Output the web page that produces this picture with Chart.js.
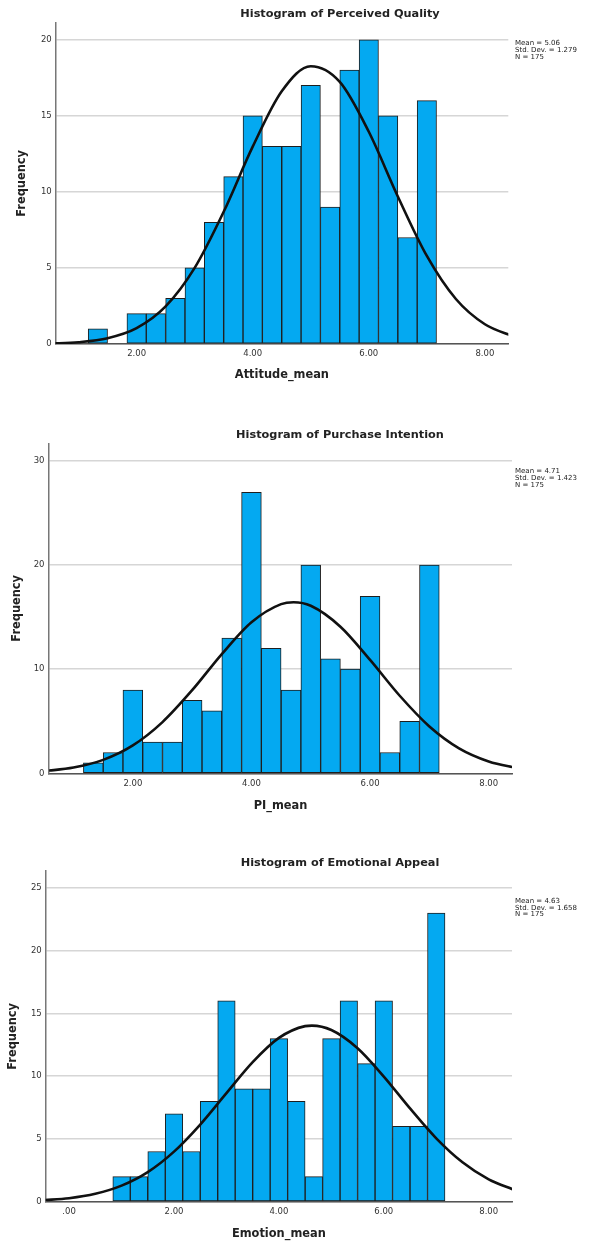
<!DOCTYPE html>
<html>
<head>
<meta charset="utf-8">
<script src="https://cdn.jsdelivr.net/npm/chart.js@4.4.1/dist/chart.umd.min.js"></script>
<style>
  html, body { margin: 0; padding: 0; background: #fff; }
  #page { position: relative; width: 592px; height: 1242px; overflow: hidden; }
  canvas { position: absolute; left: 0; }
</style>
</head>
<body>
<div id="page">
  <canvas id="quality" width="592" height="410" style="top:0px"></canvas>
  <canvas id="intention" width="592" height="425" style="top:410px"></canvas>
  <canvas id="emotion" width="592" height="407" style="top:835px"></canvas>
</div>
<script>
// bin centres (width 1/3) and frequencies
const qualityBins = [1.333, 1.667, 2.000, 2.333, 2.667, 3.000, 3.333, 3.667, 4.000, 4.333, 4.667, 5.000, 5.333, 5.667, 6.000, 6.333, 6.667, 7.000];
const qualityCounts = [1, 0, 2, 2, 3, 5, 8, 11, 15, 13, 13, 17, 9, 18, 20, 15, 7, 16];
const qualityCurveX = [0.5, 1.0, 1.5, 2.0, 2.5, 3.0, 3.5, 4.0, 4.5, 5.0, 5.5, 6.0, 6.5, 7.0, 7.5, 8.0, 8.5];
const qualityCurveY = [0.03, 0.12, 0.38, 1.04, 2.47, 5.00, 8.69, 12.97, 16.61, 18.26, 17.23, 13.95, 9.70, 5.79, 2.96, 1.30, 0.49];
const qualityStats = ['Mean = 5.06', 'Std. Dev. = 1.279', 'N = 175'];

const intentionBins = [1.333, 1.667, 2.000, 2.333, 2.667, 3.000, 3.333, 3.667, 4.000, 4.333, 4.667, 5.000, 5.333, 5.667, 6.000, 6.333, 6.667, 7.000];
const intentionCounts = [1, 2, 8, 3, 3, 7, 6, 13, 27, 12, 8, 20, 11, 10, 17, 2, 5, 20];
const intentionCurveX = [0.5, 1.0, 1.5, 2.0, 2.5, 3.0, 3.5, 4.0, 4.5, 4.71, 5.0, 5.5, 6.0, 6.5, 7.0, 7.5, 8.0, 8.5];
const intentionCurveY = [0.21, 0.55, 1.29, 2.68, 4.92, 7.98, 11.45, 14.51, 16.25, 16.43, 16.09, 14.08, 10.89, 7.45, 4.50, 2.40, 1.14, 0.47];
const intentionStats = ['Mean = 4.71', 'Std. Dev. = 1.423', 'N = 175'];

const emotionBins = [1.000, 1.333, 1.667, 2.000, 2.333, 2.667, 3.000, 3.333, 3.667, 4.000, 4.333, 4.667, 5.000, 5.333, 5.667, 6.000, 6.333, 6.667, 7.000];
const emotionCounts = [2, 2, 4, 7, 4, 8, 16, 9, 9, 13, 8, 2, 13, 16, 11, 16, 6, 6, 23];
const emotionCurveX = [-0.5, 0.0, 0.5, 1.0, 1.5, 2.0, 2.5, 3.0, 3.5, 4.0, 4.5, 4.63, 5.0, 5.5, 6.0, 6.5, 7.0, 7.5, 8.0, 8.5];
const emotionCurveY = [0.12, 0.28, 0.63, 1.28, 2.36, 3.99, 6.15, 8.65, 11.12, 13.05, 13.99, 14.03, 13.68, 12.23, 9.97, 7.43, 5.05, 3.14, 1.78, 0.92];
const emotionStats = ['Mean = 4.63', 'Std. Dev. = 1.658', 'N = 175'];

const xTicksShort = [2, 4, 6, 8];
const xTicksLong = [0, 2, 4, 6, 8];
const qualityYTicks = [0, 5, 10, 15, 20];
const intentionYTicks = [0, 10, 20, 30];
const emotionYTicks = [0, 5, 10, 15, 20, 25];

Chart.defaults.font.family = '"DejaVu Sans", Verdana, sans-serif';

// chart title + stats box, SPSS style
const notesPlugin = {
  id: 'notes',
  afterDraw(chart, args, opts) {
    const ctx = chart.ctx;
    ctx.save();
    ctx.fillStyle = '#222';
    ctx.textBaseline = 'middle';
    ctx.textAlign = 'center';
    ctx.font = 'bold 11.3px "DejaVu Sans"';
    ctx.fillText(opts.title, opts.titleX, opts.titleY);
    ctx.textAlign = 'left';
    ctx.font = '7px "DejaVu Sans"';
    opts.stats.forEach((s, i) => ctx.fillText(s, opts.statsX, opts.statsY + i * 6.8));
    ctx.restore();
  }
};

function histogram(id, h, c) {
  const titleFont = { size: 11.4, weight: 'bold' };
  return new Chart(document.getElementById(id), {
    type: 'bar',
    data: {
      datasets: [
        {
          type: 'line',
          data: c.curveX.map((x, i) => ({ x, y: c.curveY[i] })),
          borderColor: '#111',
          borderWidth: 2.6,
          pointRadius: 0,
          cubicInterpolationMode: 'monotone',
          order: 1
        },
        {
          type: 'bar',
          data: c.bins.map((x, i) => ({ x, y: c.counts[i] })),
          backgroundColor: '#04a9f1',
          borderColor: '#1e1e1e',
          borderWidth: 1,
          borderSkipped: false,
          barPercentage: 1,
          categoryPercentage: 1,
          order: 2
        }
      ]
    },
    options: {
      responsive: false,
      animation: false,
      devicePixelRatio: 1,
      layout: { padding: { top: c.top, right: c.right, left: 0, bottom: 0 } },
      plugins: {
        legend: { display: false },
        tooltip: { enabled: false },
        notes: {
          title: c.title, titleX: 340, titleY: c.titleY,
          stats: c.stats, statsX: 515, statsY: c.statsY
        }
      },
      scales: {
        x: {
          type: 'linear',
          min: c.xMin,
          max: c.xMax,
          offset: false,
          grid: { display: false, drawTicks: false, offset: false },
          border: { color: '#555', width: 1.5 },
          afterBuildTicks: s => { s.ticks = c.xTicks.map(v => ({ value: v })); },
          afterFit: s => { s.height = h - c.bottom; },
          ticks: {
            padding: c.xTickPad,
            color: '#333',
            font: { size: 8.5 },
            callback: v => v.toFixed(2).replace(/^0\./, '.')
          },
          title: {
            display: true, text: c.xTitle, color: '#222', font: titleFont,
            padding: { top: 0, bottom: c.xTitlePad }
          }
        },
        y: {
          min: 0,
          max: c.yMax,
          grid: { color: '#d6d6d6', lineWidth: 1.5, drawTicks: false },
          border: { color: '#777', width: 1.5 },
          afterBuildTicks: s => { s.ticks = c.yTicks.map(v => ({ value: v })); },
          afterFit: s => { s.width = c.left; },
          ticks: { padding: c.yTickPad, color: '#333', font: { size: 8.5 } },
          title: {
            display: true, text: 'Frequency', color: '#222', font: titleFont,
            padding: { top: c.yTitlePad, bottom: 0 }
          }
        }
      }
    },
    plugins: [notesPlugin]
  });
}

histogram('quality', 410, {
  bins: qualityBins, counts: qualityCounts,
  curveX: qualityCurveX, curveY: qualityCurveY,
  stats: qualityStats, title: 'Histogram of Perceived Quality', xTitle: 'Attitude_mean',
  xTicks: xTicksShort, yTicks: qualityYTicks,
  xMin: 0.603, xMax: 8.403, yMax: 21.12,
  top: 22.7, bottom: 344, left: 55.5, right: 83.7,
  titleY: 14.5, statsY: 43.3,
  xTickPad: 4.3, yTickPad: 3.8, xTitlePad: 28.1, yTitlePad: 15.7
});

histogram('intention', 425, {
  bins: intentionBins, counts: intentionCounts,
  curveX: intentionCurveX, curveY: intentionCurveY,
  stats: intentionStats, title: 'Histogram of Purchase Intention', xTitle: 'PI_mean',
  xTicks: xTicksShort, yTicks: intentionYTicks,
  xMin: 0.588, xMax: 8.393, yMax: 31.7,
  top: 33.3, bottom: 363.3, left: 49.1, right: 80,
  titleY: 25, statsY: 61.3,
  xTickPad: 5, yTickPad: 4.6, xTitlePad: 22.1, yTitlePad: 10.1
});

histogram('emotion', 407, {
  bins: emotionBins, counts: emotionCounts,
  curveX: emotionCurveX, curveY: emotionCurveY,
  stats: emotionStats, title: 'Histogram of Emotional Appeal', xTitle: 'Emotion_mean',
  xTicks: xTicksLong, yTicks: emotionYTicks,
  xMin: -0.446, xMax: 8.444, yMax: 26.35,
  top: 36, bottom: 366.7, left: 45.7, right: 80,
  titleY: 28, statsY: 66,
  xTickPad: 5, yTickPad: 4, xTitlePad: 1.1, yTitlePad: 6.3
});
</script>
</body>
</html>
